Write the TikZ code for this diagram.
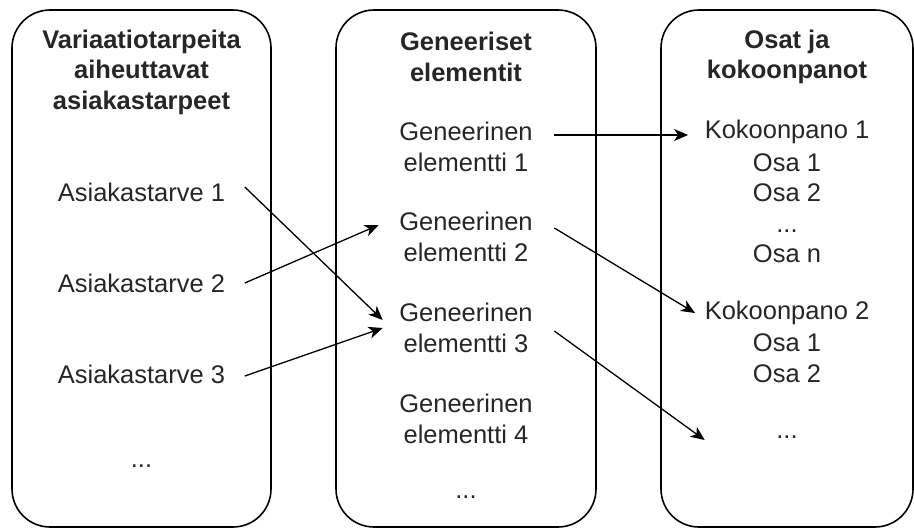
\documentclass[tikz,border=0pt]{standalone}
\usepackage{fontspec}
\setmainfont{Liberation Sans}
\usetikzlibrary{arrows.meta,calc}
\begin{document}
\begin{tikzpicture}[x=1pt,y=-1pt,
  panel/.style={draw=black,line width=1.6pt,rounded corners=38pt},
  txt/.style={inner sep=0pt,align=center,text=black!85,font=\fontsize{25.5}{30.5}\selectfont},
  head/.style={txt,font=\fontsize{25.5}{30.5}\selectfont\bfseries},
  arr/.style={line width=1.3pt,-{Stealth[length=14pt,width=12pt,inset=4pt]}}]
\useasboundingbox (0,0) rectangle (914,528);
\draw[panel] (12,10) rectangle (271,527);
\draw[panel] (336,10) rectangle (596,527);
\draw[panel] (661,10) rectangle (913,527);
% column 1
\node[head] (h1) at (141.5,72) {Variaatiotarpeita\\aiheuttavat\\asiakastarpeet};
\node[txt] (a1) at (141.5,192) {Asiakastarve 1};
\node[txt] (a2) at (141.5,283) {Asiakastarve 2};
\node[txt] (a3) at (141.5,374) {Asiakastarve 3};
\node[txt] (adots) at (141.5,466) {...};
% column 2
\node[head] (h2) at (466,57) {Geneeriset\\elementit};
\node[txt] (g1) at (466,147) {Geneerinen\\elementti 1};
\node[txt] (g2) at (466,237) {Geneerinen\\elementti 2};
\node[txt] (g3) at (466,328) {Geneerinen\\elementti 3};
\node[txt] (g4) at (466,419) {Geneerinen\\elementti 4};
\node[txt] (gdots) at (466,497) {...};
% column 3
\node[head] (h3) at (787,57) {Osat ja\\kokoonpanot};
\node[txt] (k1) at (787,132) {Kokoonpano 1};
\node[txt] (k1p) at (787,208) {Osa 1\\Osa 2\\...\\Osa n};
\node[txt] (k2) at (787,313) {Kokoonpano 2};
\node[txt] (k2p) at (787,358) {Osa 1\\Osa 2};
\node[txt] (kdots) at (787,437) {...};
% connectors
\draw[arr] ($(g1.east)+(21.5,-12)$) -- ($(k1.west)+(-16.5,3)$);
\draw[arr] ($(a1.east)+(19.5,-5)$) -- ($(g3.west)+(-16.5,-8)$);
\draw[arr] ($(a2.east)+(19.5,0)$) -- ($(g2.west)+(-20.5,-12)$);
\draw[arr] ($(a3.east)+(19.5,2)$) -- ($(g3.west)+(-16.5,0)$);
\draw[arr] ($(g2.east)+(21.5,-9)$) -- ($(k2.west)+(-9.5,0)$);
\draw[arr] ($(g3.east)+(21.5,3)$) -- ($(kdots.west)+(-71.5,3)$);
\end{tikzpicture}
\end{document}
